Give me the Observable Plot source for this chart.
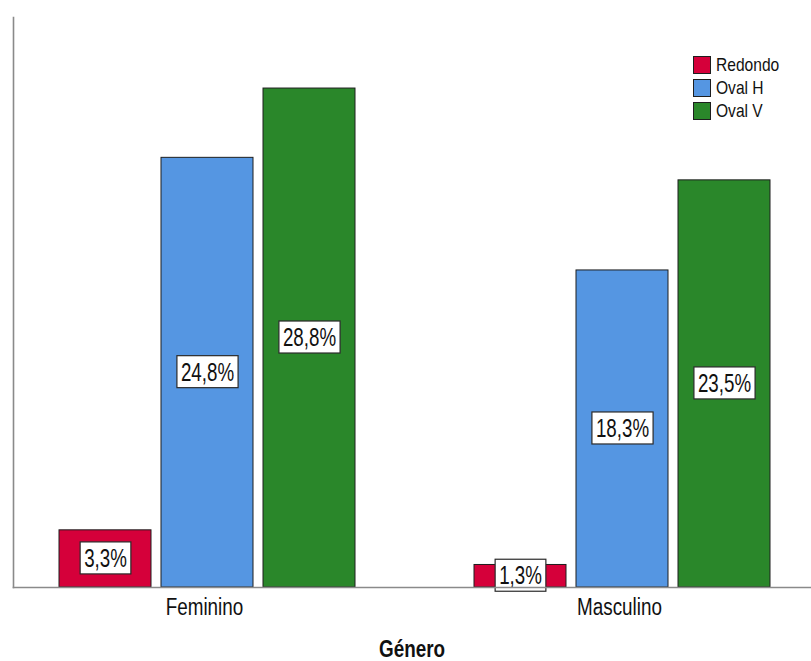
<!DOCTYPE html>
<html>
<head>
<meta charset="utf-8">
<script src="https://cdn.jsdelivr.net/npm/d3@7"></script>
<script src="https://cdn.jsdelivr.net/npm/@observablehq/plot@0.6"></script>
<style>
  body { margin: 0; background: #fff; }
  #chart { position: relative; width: 811px; height: 661px; }
  #chart svg g[aria-label="fx-axis label"] text { font-weight: bold; }
  .legend { position: absolute; left: 693px; top: 56px; font-family: "Liberation Sans", Arial, sans-serif; font-size: 19px; color: #111; }
  .legend .item { display: flex; align-items: center; height: 18px; margin-bottom: 5px; }
  .legend .sw { width: 16px; height: 16px; border: 1px solid #1e1e1e; margin-right: 5px; flex: none; }
  .legend span { display: inline-block; transform: scaleX(0.82); transform-origin: left center; white-space: nowrap; }
</style>
</head>
<body>
<div id="chart"></div>
<script>
// Categories, series and values
const genders = ["Feminino", "Masculino"];
const series = ["Redondo", "Oval H", "Oval V"];
const seriesColors = ["#d5003a", "#5596e2", "#2a872a"];
const feminino = [3.3, 24.8, 28.8];
const masculino = [1.3, 18.3, 23.5];
const axisTitle = "Género";

const FONT = '"Liberation Sans", Arial, sans-serif';
const NARROW = 0.82;       // horizontal squeeze for axis text (narrow sans look)
const LABEL_NARROW = 0.75; // tighter squeeze for the value labels

const rows = [];
[feminino, masculino].forEach((vals, gi) =>
  series.forEach((s, si) => rows.push({genero: genders[gi], forma: s, pct: vals[si]}))
);

const fmt = (v) => v.toFixed(1).replace(".", ",") + "%";

const plot = Plot.plot({
  width: 811,
  height: 661,
  marginLeft: 12,
  marginRight: 0,
  marginTop: 17,
  marginBottom: 74,
  style: {fontFamily: FONT, fontSize: "23px", color: "#111", background: "#fff"},
  fx: {domain: genders, paddingInner: 0.079, paddingOuter: 0, label: axisTitle},
  x: {domain: series, paddingInner: 0.1, paddingOuter: 0.4136, align: 0.53, axis: null},
  y: {domain: [0, 32.9], axis: null},
  color: {domain: series, range: seriesColors},
  marks: [
    Plot.barY(rows, {fx: "genero", x: "forma", y: "pct", fill: "forma", stroke: "#1e1e1e", strokeWidth: 1}),
    Plot.text(rows, {
      fx: "genero", x: "forma", y: (d) => d.pct / 2, text: (d) => fmt(d.pct),
      fontSize: 25, fill: "#111", className: "val-label"
    }),
    Plot.axisFx({anchor: "bottom", tickSize: 0, tickPadding: 11, label: axisTitle, labelAnchor: "center", labelOffset: 69}),
    Plot.frame({anchor: "left", facet: "super", stroke: "#8a8a8a", strokeWidth: 1.6}),
    Plot.frame({anchor: "bottom", facet: "super", stroke: "#8a8a8a", strokeWidth: 1.6})
  ]
});

const chart = document.getElementById("chart");
chart.appendChild(plot);

// White boxed backgrounds behind the value labels (sized for the squeezed text)
d3.select(plot).selectAll(".val-label text").each(function () {
  const b = this.getBBox();
  const padX = 4, padY = 2;
  d3.select(this.parentNode)
    .insert("rect", () => this)
    .attr("x", b.x * LABEL_NARROW - padX)
    .attr("y", b.y - padY)
    .attr("width", b.width * LABEL_NARROW + 2 * padX)
    .attr("height", b.height + 2 * padY)
    .attr("transform", this.getAttribute("transform"))
    .attr("fill", "#fff")
    .attr("stroke", "#2a2a2a")
    .attr("stroke-width", 1.2);
  this.classList.add("squeezed");
  this.setAttribute("transform", ((this.getAttribute("transform") || "") + ` scale(${LABEL_NARROW},1)`).trim());
});

// Narrow the remaining chart text horizontally around its anchor
d3.select(plot).selectAll("text:not(.squeezed)").each(function () {
  const t = this.getAttribute("transform") || "";
  this.setAttribute("transform", (t + ` scale(${NARROW},1)`).trim());
});

// Legend
const legend = document.createElement("div");
legend.className = "legend";
series.forEach((s, i) => {
  const item = document.createElement("div");
  item.className = "item";
  const sw = document.createElement("div");
  sw.className = "sw";
  sw.style.background = seriesColors[i];
  const lab = document.createElement("span");
  lab.textContent = s;
  item.appendChild(sw);
  item.appendChild(lab);
  legend.appendChild(item);
});
chart.appendChild(legend);
</script>
</body>
</html>
